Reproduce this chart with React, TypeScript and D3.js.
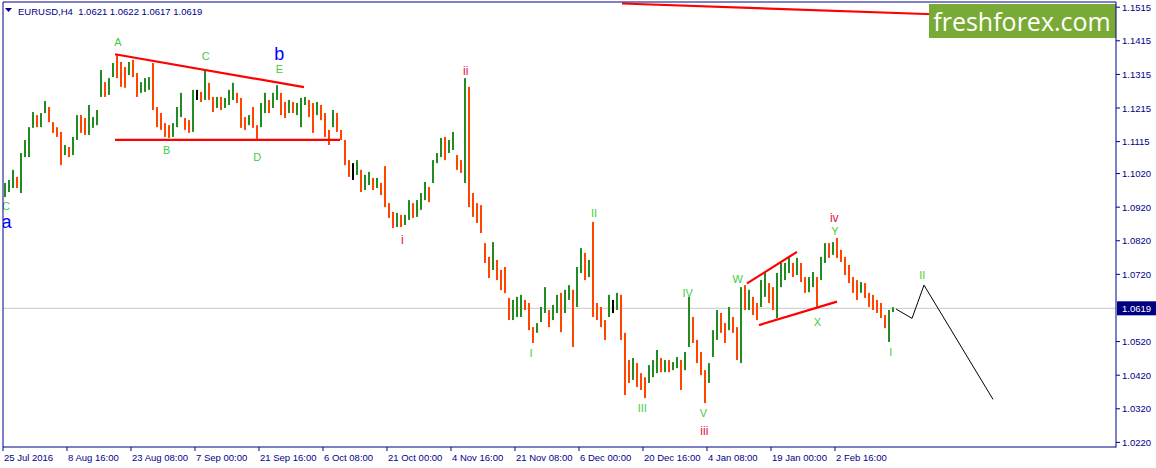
import { useEffect } from 'react';
import * as d3 from 'd3';

// EURUSD H4, one point per 4 H4 bars
const BARS_PER_POINT = 4;
const symbolTitle = 'EURUSD,H4  1.0621 1.0622 1.0617 1.0619';
const lastPrice = 1.0619;
const firstOpen = 1.0965;

const highs = [
  1.0992, 1.1001, 1.1031, 1.1010, 1.1081, 1.1120, 1.1158, 1.1203, 1.1194, 1.1200,
  1.1236, 1.1218, 1.1173, 1.1158, 1.1144, 1.1105, 1.1099, 1.1129, 1.1194, 1.1194,
  1.1185, 1.1224, 1.1188, 1.1209, 1.1328, 1.1292, 1.1304, 1.1349, 1.1373, 1.1352,
  1.1337, 1.1352, 1.1358, 1.1319, 1.1292, 1.1304, 1.1307, 1.1349, 1.1218, 1.1200,
  1.1170, 1.1164, 1.1170, 1.1218, 1.1260, 1.1185, 1.1179, 1.1269, 1.1269, 1.1263,
  1.1331, 1.1290, 1.1248, 1.1248, 1.1248, 1.1245, 1.1269, 1.1290, 1.1260, 1.1245,
  1.1188, 1.1194, 1.1218, 1.1164, 1.1230, 1.1260, 1.1239, 1.1260, 1.1283, 1.1260,
  1.1233, 1.1239, 1.1233, 1.1230, 1.1245, 1.1248, 1.1239, 1.1230, 1.1233, 1.1224,
  1.1200, 1.1150, 1.1209, 1.1200, 1.1150, 1.1120, 1.1060, 1.1051, 1.1060, 1.1031,
  1.1016, 1.1025, 1.1007, 1.1007, 1.0992, 1.1042, 1.0932, 1.0906, 1.0903, 1.0897,
  1.0897, 1.0941, 1.0932, 1.0941, 1.0962, 1.0995, 1.0980, 1.1060, 1.1081, 1.1126,
  1.1129, 1.1120, 1.1144, 1.1075, 1.1060, 1.1304, 1.1278, 1.0962, 1.0932, 1.0926,
  1.0813, 1.0772, 1.0816, 1.0763, 1.0733, 1.0742, 1.0650, 1.0644, 1.0653, 1.0659,
  1.0644, 1.0635, 1.0563, 1.0575, 1.0623, 1.0682, 1.0614, 1.0629, 1.0659, 1.0665,
  1.0674, 1.0688, 1.0674, 1.0742, 1.0798, 1.0784, 1.0763, 1.0876, 1.0635, 1.0623,
  1.0584, 1.0659, 1.0644, 1.0665, 1.0659, 1.0546, 1.0465, 1.0471, 1.0456, 1.0426,
  1.0414, 1.0450, 1.0465, 1.0495, 1.0471, 1.0465, 1.0465, 1.0459, 1.0474, 1.0465,
  1.0489, 1.0653, 1.0593, 1.0525, 1.0489, 1.0435, 1.0456, 1.0554, 1.0614, 1.0605,
  1.0575, 1.0623, 1.0593, 1.0563, 1.0682, 1.0688, 1.0674, 1.0653, 1.0635, 1.0703,
  1.0724, 1.0694, 1.0682, 1.0724, 1.0754, 1.0754, 1.0772, 1.0754, 1.0769, 1.0754,
  1.0712, 1.0712, 1.0727, 1.0712, 1.0772, 1.0813, 1.0813, 1.0816, 1.0828, 1.0793,
  1.0772, 1.0748, 1.0712, 1.0703, 1.0697, 1.0694, 1.0665, 1.0659, 1.0644, 1.0635,
  1.0599, 1.0614, 1.0622,
];

const lows = [
  1.0950, 1.0965, 1.0977, 1.0977, 1.0962, 1.1069, 1.1069, 1.1156, 1.1158, 1.1158,
  1.1200, 1.1173, 1.1141, 1.1129, 1.1045, 1.1075, 1.1069, 1.1075, 1.1120, 1.1141,
  1.1135, 1.1135, 1.1156, 1.1164, 1.1248, 1.1248, 1.1254, 1.1307, 1.1304, 1.1278,
  1.1275, 1.1313, 1.1307, 1.1248, 1.1260, 1.1263, 1.1269, 1.1209, 1.1158, 1.1150,
  1.1129, 1.1126, 1.1129, 1.1158, 1.1188, 1.1150, 1.1141, 1.1144, 1.1239, 1.1233,
  1.1239, 1.1239, 1.1203, 1.1215, 1.1209, 1.1215, 1.1224, 1.1239, 1.1230, 1.1156,
  1.1150, 1.1164, 1.1156, 1.1123, 1.1158, 1.1200, 1.1200, 1.1215, 1.1239, 1.1194,
  1.1185, 1.1200, 1.1200, 1.1194, 1.1158, 1.1224, 1.1188, 1.1141, 1.1194, 1.1179,
  1.1129, 1.1105, 1.1158, 1.1144, 1.1120, 1.1045, 1.1010, 1.1001, 1.1016, 1.0965,
  1.0971, 1.0986, 1.0971, 1.0977, 1.0956, 1.0920, 1.0888, 1.0858, 1.0861, 1.0861,
  1.0867, 1.0882, 1.0888, 1.0891, 1.0912, 1.0941, 1.0935, 1.0992, 1.1051, 1.1069,
  1.1060, 1.1081, 1.1090, 1.1031, 1.1022, 1.0992, 1.0920, 1.0891, 1.0873, 1.0843,
  1.0754, 1.0709, 1.0733, 1.0703, 1.0673, 1.0664, 1.0584, 1.0584, 1.0593, 1.0593,
  1.0614, 1.0554, 1.0516, 1.0546, 1.0578, 1.0605, 1.0563, 1.0584, 1.0605, 1.0548,
  1.0605, 1.0644, 1.0504, 1.0623, 1.0724, 1.0703, 1.0712, 1.0593, 1.0584, 1.0563,
  1.0525, 1.0593, 1.0605, 1.0614, 1.0525, 1.0361, 1.0397, 1.0406, 1.0385, 1.0376,
  1.0352, 1.0397, 1.0414, 1.0426, 1.0429, 1.0429, 1.0429, 1.0435, 1.0441, 1.0376,
  1.0435, 1.0504, 1.0516, 1.0456, 1.0420, 1.0337, 1.0397, 1.0474, 1.0525, 1.0546,
  1.0516, 1.0554, 1.0546, 1.0465, 1.0456, 1.0614, 1.0614, 1.0599, 1.0584, 1.0623,
  1.0653, 1.0635, 1.0614, 1.0590, 1.0682, 1.0703, 1.0724, 1.0712, 1.0718, 1.0697,
  1.0665, 1.0667, 1.0682, 1.0623, 1.0703, 1.0754, 1.0769, 1.0778, 1.0769, 1.0757,
  1.0718, 1.0694, 1.0665, 1.0644, 1.0665, 1.0650, 1.0623, 1.0614, 1.0605, 1.0590,
  1.0560, 1.0519, 1.0608,
];

const closes = [
  1.0977, 1.0986, 1.1001, 1.0992, 1.1066, 1.1096, 1.1150, 1.1188, 1.1173, 1.1194,
  1.1218, 1.1185, 1.1156, 1.1144, 1.1084, 1.1090, 1.1084, 1.1114, 1.1173, 1.1156,
  1.1150, 1.1164, 1.1179, 1.1200, 1.1304, 1.1275, 1.1283, 1.1340, 1.1328, 1.1313,
  1.1298, 1.1328, 1.1319, 1.1269, 1.1275, 1.1292, 1.1298, 1.1221, 1.1179, 1.1164,
  1.1150, 1.1144, 1.1156, 1.1203, 1.1209, 1.1173, 1.1158, 1.1254, 1.1254, 1.1251,
  1.1275, 1.1254, 1.1224, 1.1233, 1.1224, 1.1239, 1.1254, 1.1269, 1.1245, 1.1173,
  1.1164, 1.1185, 1.1164, 1.1150, 1.1209, 1.1239, 1.1221, 1.1245, 1.1260, 1.1224,
  1.1215, 1.1224, 1.1209, 1.1215, 1.1224, 1.1233, 1.1203, 1.1194, 1.1215, 1.1194,
  1.1150, 1.1135, 1.1194, 1.1156, 1.1129, 1.1066, 1.1031, 1.1031, 1.1045, 1.0986,
  1.1001, 1.1007, 1.0986, 1.0995, 1.0971, 1.0941, 1.0906, 1.0876, 1.0888, 1.0876,
  1.0882, 1.0918, 1.0906, 1.0926, 1.0947, 1.0977, 1.0956, 1.1045, 1.1066, 1.1105,
  1.1090, 1.1105, 1.1120, 1.1054, 1.1037, 1.1254, 1.0941, 1.0926, 1.0897, 1.0867,
  1.0792, 1.0757, 1.0786, 1.0718, 1.0697, 1.0688, 1.0620, 1.0629, 1.0635, 1.0644,
  1.0620, 1.0569, 1.0539, 1.0560, 1.0608, 1.0644, 1.0590, 1.0608, 1.0644, 1.0629,
  1.0644, 1.0674, 1.0584, 1.0718, 1.0769, 1.0733, 1.0748, 1.0629, 1.0608, 1.0590,
  1.0569, 1.0629, 1.0629, 1.0650, 1.0548, 1.0480, 1.0429, 1.0450, 1.0420, 1.0400,
  1.0391, 1.0435, 1.0450, 1.0459, 1.0450, 1.0456, 1.0447, 1.0450, 1.0459, 1.0420,
  1.0480, 1.0554, 1.0539, 1.0471, 1.0435, 1.0420, 1.0435, 1.0539, 1.0590, 1.0569,
  1.0539, 1.0599, 1.0569, 1.0510, 1.0659, 1.0644, 1.0659, 1.0614, 1.0608, 1.0688,
  1.0703, 1.0659, 1.0644, 1.0703, 1.0718, 1.0739, 1.0757, 1.0733, 1.0748, 1.0718,
  1.0688, 1.0703, 1.0709, 1.0688, 1.0757, 1.0793, 1.0787, 1.0799, 1.0778, 1.0769,
  1.0739, 1.0718, 1.0688, 1.0679, 1.0682, 1.0665, 1.0644, 1.0629, 1.0620, 1.0599,
  1.0578, 1.0599, 1.0619,
];

// time axis: label every 64 H4 bars
const dateLabels = [
  '25 Jul 2016', '8 Aug 16:00', '23 Aug 08:00', '7 Sep 00:00', '21 Sep 16:00',
  '6 Oct 08:00', '21 Oct 00:00', '4 Nov 16:00', '21 Nov 08:00', '6 Dec 00:00',
  '20 Dec 16:00', '4 Jan 08:00', '19 Jan 00:00', '2 Feb 16:00',
];
const dateTickBars = [0, 64, 128, 192, 256, 320, 384, 448, 512, 576, 640, 704, 768, 832];

const priceTicks = [
  1.1515, 1.1415, 1.1315, 1.1215, 1.1115, 1.1020, 1.0920, 1.0820, 1.0720,
  1.0520, 1.0420, 1.0320, 1.0220,
];

// drawn objects, as [bar, price]
const triangleUpper: [number, number][] = [[112, 1.1375], [301, 1.1277]];
const triangleLower: [number, number][] = [[112, 1.1120], [337, 1.1120]];
const channelTop: [number, number][] = [[619, 1.1526], [930, 1.1494]];
const wedgeUpper: [number, number][] = [[744, 1.0693], [794, 1.0787]];
const wedgeLower: [number, number][] = [[756, 1.0569], [834, 1.0639]];
const projection: [number, number][] = [[893, 1.0617], [909, 1.0589], [921, 1.0688], [990, 1.0348]];

const GREEN = '#44cc3a';
const CRIMSON = '#dc143c';
const BLUE = '#0000ff';

const waveLabels = [
  { text: 'A', bar: 115, price: 1.1412, color: GREEN, size: 11 },
  { text: 'B', bar: 163.7, price: 1.1090, color: GREEN, size: 11 },
  { text: 'C', bar: 202.7, price: 1.1368, color: GREEN, size: 11 },
  { text: 'D', bar: 254.3, price: 1.1070, color: GREEN, size: 11 },
  { text: 'E', bar: 276.3, price: 1.1330, color: GREEN, size: 11 },
  { text: 'b', bar: 276.3, price: 1.1378, color: BLUE, size: 18 },
  { text: 'C', bar: 3, price: 1.0923, color: GREEN, size: 11 },
  { text: 'a', bar: 3.5, price: 1.0876, color: BLUE, size: 18 },
  { text: 'i', bar: 399.3, price: 1.0822, color: CRIMSON, size: 12 },
  { text: 'ii', bar: 462.7, price: 1.1326, color: CRIMSON, size: 12 },
  { text: 'I', bar: 528, price: 1.0487, color: GREEN, size: 11 },
  { text: 'II', bar: 591, price: 1.0902, color: GREEN, size: 11 },
  { text: 'III', bar: 639.3, price: 1.0321, color: GREEN, size: 11 },
  { text: 'IV', bar: 684.7, price: 1.0665, color: GREEN, size: 11 },
  { text: 'V', bar: 700.3, price: 1.0307, color: GREEN, size: 11 },
  { text: 'iii', bar: 701.3, price: 1.0255, color: CRIMSON, size: 12 },
  { text: 'W', bar: 734.7, price: 1.0705, color: GREEN, size: 11 },
  { text: 'X', bar: 814.3, price: 1.0579, color: GREEN, size: 11 },
  { text: 'iv', bar: 831.3, price: 1.0887, color: CRIMSON, size: 12 },
  { text: 'Y', bar: 832, price: 1.0849, color: GREEN, size: 11 },
  { text: 'I', bar: 887.7, price: 1.0490, color: GREEN, size: 11 },
  { text: 'II', bar: 919.3, price: 1.0718, color: GREEN, size: 11 },
];

const W = 1156;
const H = 468;
const left = 3;
const top = 2;
const right = 1116;
const bottom = 447;
const axisColor = '#00008b';
const axisFont = '"Liberation Sans", Arial, sans-serif';

export default function App() {
  useEffect(() => {
    document.body.style.margin = '0';
  }, []);

  const x = d3.scaleLinear().domain([0, right - left]).range([left, right]);
  const y = d3.scaleLinear().domain([1.0220, 1.1515]).range([442.4, 7.2]);
  const line = d3.line<[number, number]>().x(d => x(d[0])).y(d => y(d[1]));

  const bars = closes.map((c, i) => {
    const o = i === 0 ? firstOpen : closes[i - 1];
    return { bar: i * BARS_PER_POINT, o, h: highs[i], l: lows[i], c };
  });

  return (
    <svg width={W} height={H} style={{ position: 'absolute', left: 0, top: 0, background: '#fff' }}>
      <defs>
        <clipPath id="plot">
          <rect x={left} y={top} width={right - left} height={bottom - top} />
        </clipPath>
      </defs>
      <rect x={0} y={0} width={W} height={H} fill="#fff" />

      <g clipPath="url(#plot)">
        {/* current price line */}
        <line x1={left} x2={right} y1={y(lastPrice)} y2={y(lastPrice)} stroke="#c8c8c8" strokeWidth={1} />

        {bars.map((d, i) => (
          <rect
            key={i}
            x={x(d.bar) + 1}
            y={y(d.h)}
            width={2}
            height={Math.max(1, y(d.l) - y(d.h))}
            fill={d.c > d.o ? '#228b22' : d.c < d.o ? '#ff4500' : '#000'}
          />
        ))}

        {[triangleUpper, triangleLower, channelTop, wedgeUpper, wedgeLower].map((pts, i) => (
          <path key={i} d={line(pts) ?? ''} fill="none" stroke="#ff0000" strokeWidth={2.2} />
        ))}
        <path d={line(projection) ?? ''} fill="none" stroke="#000" strokeWidth={1} />

        {waveLabels.map((l, i) => (
          <text
            key={i}
            x={x(l.bar)}
            y={y(l.price)}
            dy="0.35em"
            textAnchor="middle"
            fill={l.color}
            fontSize={l.size}
            fontFamily='"Liberation Sans", Arial, sans-serif'
          >
            {l.text}
          </text>
        ))}
      </g>

      {/* watermark */}
      <rect x={929} y={4} width={right - 929} height={34} fill="#7aaa36" />
      <text x={1022} y={22} dy="0.35em" textAnchor="middle" fill="#fff" fontSize={25}
        fontFamily='"Open Sans", "Noto Sans", sans-serif'>freshforex.com</text>

      {/* frame */}
      <line x1={left} x2={right} y1={top} y2={top} stroke={axisColor} />
      <line x1={left} x2={left} y1={top} y2={bottom} stroke={axisColor} />
      <line x1={right} x2={right} y1={top} y2={bottom + 0.5} stroke={axisColor} />
      <line x1={left} x2={right} y1={bottom} y2={bottom} stroke={axisColor} />

      {/* price axis */}
      {priceTicks.map(p => (
        <g key={p}>
          <line x1={right} x2={right + 4} y1={y(p)} y2={y(p)} stroke={axisColor} />
          <text x={1122} y={y(p) + 3.5} fontSize={9.5} fill={axisColor} fontFamily={axisFont}>
            {p.toFixed(4)}
          </text>
        </g>
      ))}
      <rect x={right + 1} y={y(lastPrice) - 7} width={W - right - 1} height={14} fill="#000080" />
      <text x={1122} y={y(lastPrice) + 3.5} fontSize={9.5} fill="#fff" fontFamily={axisFont}>
        {lastPrice.toFixed(4)}
      </text>

      {/* time axis */}
      {dateTickBars.map((b, i) => (
        <g key={b}>
          <line x1={x(b)} x2={x(b)} y1={bottom} y2={bottom + 4} stroke={axisColor} />
          <text x={x(b) + 1} y={461} fontSize={9.5} fill={axisColor} fontFamily={axisFont}>
            {dateLabels[i]}
          </text>
        </g>
      ))}

      {/* header */}
      <path d="M5,8 L12,8 L8.5,12 Z" fill={axisColor} />
      <text x={18} y={14.5} fontSize={9.5} fill={axisColor} fontFamily={axisFont} style={{ whiteSpace: 'pre' }}>
        {symbolTitle}
      </text>
    </svg>
  );
}
